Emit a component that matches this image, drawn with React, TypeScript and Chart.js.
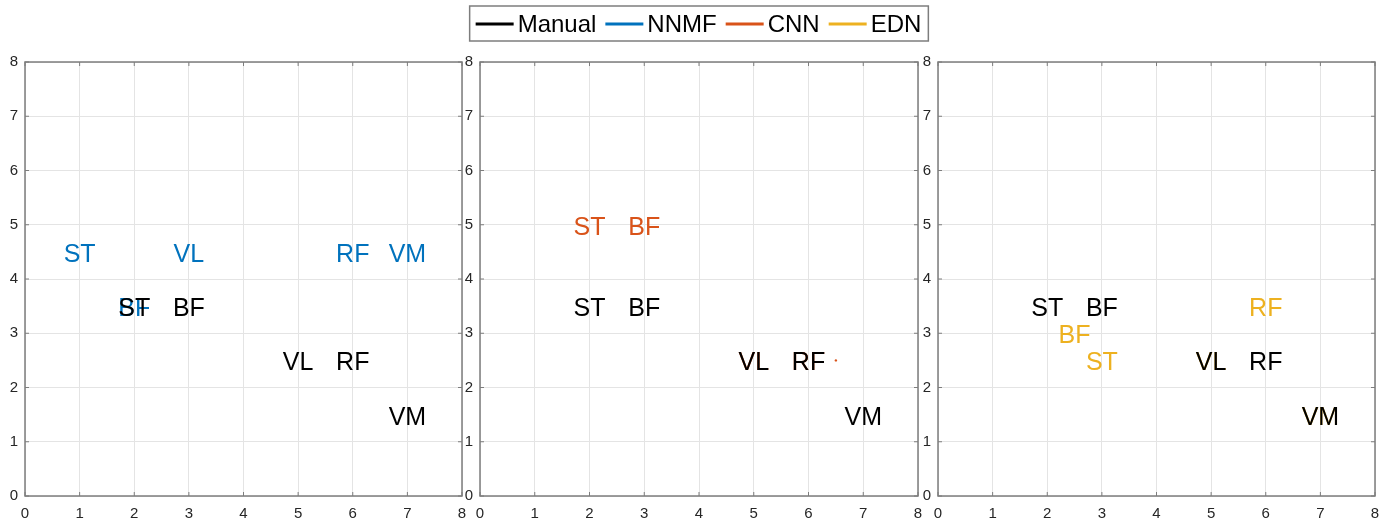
import React, { useEffect, useRef } from 'react';
import { Chart, registerables } from 'chart.js';

Chart.register(...registerables);

const W = 1397;
const H = 527;
const FONT = '"Liberation Sans", Arial, Helvetica, sans-serif';

// Muscle labels and their (x, y) positions per method
const muscles = ['ST', 'BF', 'VL', 'RF', 'VM'];
const manualX = [2, 3, 5, 6, 7];
const manualY = [3.5, 3.5, 2.5, 2.5, 1.5];
const nnmfX = [1, 2, 3, 6, 7];
const nnmfY = [4.5, 3.5, 4.5, 4.5, 4.5];
const cnnMuscles = ['ST', 'BF', 'VL', 'RF'];
const cnnX = [2, 3, 5, 6];
const cnnY = [5, 5, 2.5, 2.5];
const cnnDotX = [6.5];
const cnnDotY = [2.5];
const ednX = [3, 2.5, 5, 6, 7];
const ednY = [2.5, 3, 2.5, 3.5, 1.5];

const axisMin = 0;
const axisMax = 8;

const seriesNames = ['Manual', 'NNMF', 'CNN', 'EDN'];
const seriesColors = ['#000000', '#0072BD', '#D95319', '#EDB120'];

// Plot-area horizontal extents of the three panels
const panelLefts = [25, 480, 938];
const panelRights = [462, 918, 1375];
const plotTop = 62;
const plotBottom = 496;

const Y_AXIS_W = 20;
const X_AXIS_H = 30;

const toPoints = (xs: number[], ys: number[]) => xs.map((x, i) => ({ x, y: ys[i] }));

const textSet = (xs: number[], ys: number[], names: string[], color: string) => ({
  data: toPoints(xs, ys),
  names,
  textColor: color,
  pointRadius: 0,
  showLine: false,
});

// Draws each dataset's names centred on its points
const textLabelPlugin = {
  id: 'textLabels',
  afterDatasetsDraw(chart: any) {
    const ctx = chart.ctx;
    chart.data.datasets.forEach((ds: any, i: number) => {
      if (!ds.names) return;
      const meta = chart.getDatasetMeta(i);
      ctx.save();
      ctx.font = `25px ${FONT}`;
      ctx.fillStyle = ds.textColor;
      ctx.textAlign = 'center';
      ctx.textBaseline = 'middle';
      meta.data.forEach((el: any, j: number) => {
        // nudge so the glyphs' visual centre sits on the point
        ctx.fillText(ds.names[j], el.x, el.y + 3);
      });
      ctx.restore();
    });
  },
};

// Axes box with inward tick marks on all four sides
const boxPlugin = {
  id: 'axesBox',
  afterDraw(chart: any) {
    const { ctx, chartArea: a, scales } = chart;
    ctx.save();
    ctx.strokeStyle = '#7d7d7d';
    ctx.lineWidth = 1.5;
    ctx.strokeRect(a.left, a.top, a.right - a.left, a.bottom - a.top);
    ctx.lineWidth = 1;
    const len = 4;
    ctx.beginPath();
    for (let v = axisMin; v <= axisMax; v++) {
      const px = scales.x.getPixelForValue(v);
      ctx.moveTo(px, a.bottom);
      ctx.lineTo(px, a.bottom - len);
      ctx.moveTo(px, a.top);
      ctx.lineTo(px, a.top + len);
      const py = scales.y.getPixelForValue(v);
      ctx.moveTo(a.left, py);
      ctx.lineTo(a.left + len, py);
      ctx.moveTo(a.right, py);
      ctx.lineTo(a.right - len, py);
    }
    ctx.stroke();
    ctx.restore();
  },
};

// Boxed legend centred above the middle panel
const legendPlugin = {
  id: 'boxedLegend',
  afterDraw(chart: any) {
    const ctx = chart.ctx;
    const a = chart.chartArea;
    ctx.save();
    ctx.font = `24px ${FONT}`;
    const lineLen = 38;
    const gapText = 4;
    const gapItem = 9;
    const padL = 6;
    const padR = 7;
    const widths = seriesNames.map((n) => ctx.measureText(n).width);
    let total = padL + padR;
    widths.forEach((w, i) => {
      total += lineLen + gapText + w + (i < widths.length - 1 ? gapItem : 0);
    });
    const cx = (a.left + a.right) / 2;
    const left = cx - total / 2;
    const top = 6;
    const bottom = 41;
    const midY = (top + bottom) / 2 + 0.5;
    ctx.fillStyle = '#ffffff';
    ctx.fillRect(left, top, total, bottom - top);
    ctx.strokeStyle = '#7d7d7d';
    ctx.lineWidth = 1.5;
    ctx.strokeRect(left, top, total, bottom - top);
    let x = left + padL;
    seriesNames.forEach((n, i) => {
      ctx.strokeStyle = seriesColors[i];
      ctx.lineWidth = 3;
      ctx.beginPath();
      ctx.moveTo(x, midY);
      ctx.lineTo(x + lineLen, midY);
      ctx.stroke();
      x += lineLen + gapText;
      ctx.fillStyle = '#000000';
      ctx.textAlign = 'left';
      ctx.textBaseline = 'middle';
      ctx.fillText(n, x, midY + 1);
      x += widths[i] + gapItem;
    });
    ctx.restore();
  },
};

const axisOptions = (isX: boolean) => ({
  type: 'linear' as const,
  min: axisMin,
  max: axisMax,
  afterFit: (s: any) => {
    if (isX) s.height = X_AXIS_H;
    else s.width = Y_AXIS_W;
  },
  ticks: {
    stepSize: 1,
    padding: isX ? 9 : 7,
    color: '#262626',
    font: { family: FONT, size: 15 },
    maxRotation: 0,
    autoSkip: false,
  },
  grid: { color: '#e4e4e4', lineWidth: 1, drawTicks: false },
  border: { display: false },
});

const panelDatasets = [
  [
    textSet(nnmfX, nnmfY, muscles, seriesColors[1]),
    textSet(manualX, manualY, muscles, seriesColors[0]),
  ],
  [
    textSet(cnnX, cnnY, cnnMuscles, seriesColors[2]),
    {
      data: toPoints(cnnDotX, cnnDotY),
      pointRadius: 1.2,
      pointBackgroundColor: seriesColors[2],
      pointBorderWidth: 0,
      showLine: false,
    },
    textSet(manualX, manualY, muscles, seriesColors[0]),
  ],
  [
    textSet(ednX, ednY, muscles, seriesColors[3]),
    textSet(manualX, manualY, muscles, seriesColors[0]),
  ],
];

export default function App() {
  const refs = [useRef<HTMLCanvasElement>(null), useRef<HTMLCanvasElement>(null), useRef<HTMLCanvasElement>(null)];

  useEffect(() => {
    const charts: Chart[] = [];
    refs.forEach((ref, p) => {
      const canvas = ref.current;
      if (!canvas) return;
      const plugins: any[] = [textLabelPlugin, boxPlugin];
      if (p === 1) plugins.push(legendPlugin);
      charts.push(
        new Chart(canvas, {
          type: 'scatter',
          data: { datasets: panelDatasets[p] as any },
          options: {
            animation: false,
            responsive: false,
            events: [],
            layout: {
              padding: {
                left: panelLefts[p] - Y_AXIS_W,
                right: W - panelRights[p],
                top: plotTop,
                bottom: H - plotBottom - X_AXIS_H,
              },
            },
            plugins: { legend: { display: false }, tooltip: { enabled: false } },
            scales: { x: axisOptions(true), y: axisOptions(false) } as any,
          },
          plugins,
        })
      );
    });
    return () => charts.forEach((c) => c.destroy());
  }, []);

  return (
    <div style={{ position: 'fixed', left: 0, top: 0, width: W, height: H, background: '#ffffff' }}>
      {refs.map((ref, i) => (
        <canvas
          key={i}
          ref={ref}
          width={W}
          height={H}
          style={{ position: 'absolute', left: 0, top: 0, width: W, height: H }}
        />
      ))}
    </div>
  );
}
